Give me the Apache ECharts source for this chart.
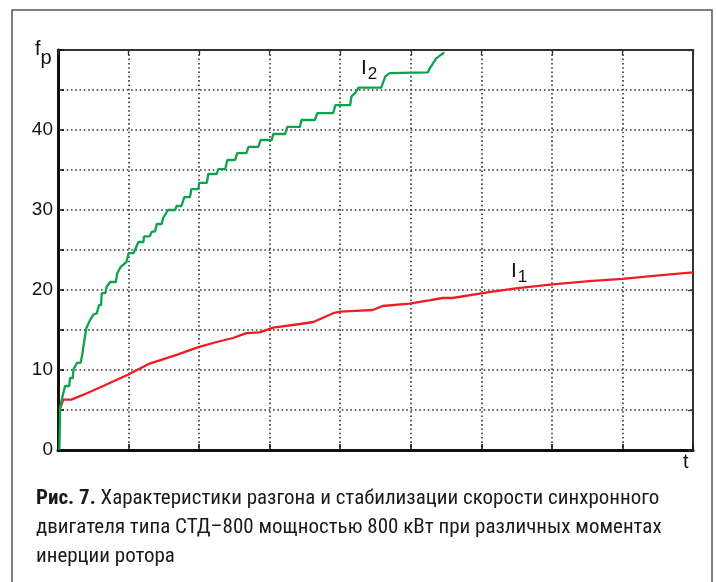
<!DOCTYPE html>
<html><head><meta charset="utf-8">
<script src="https://cdn.jsdelivr.net/npm/echarts@6/dist/echarts.min.js"></script>
<style>html,body{margin:0;padding:0;background:#fff}#c{width:716px;height:582px}</style>
</head><body><div id="c"></div>
<script>
// t (arbitrary units, 9 grid divisions), f_p values
const yTickLabels = [0, 10, 20, 30, 40];
const seriesNames = ['I1', 'I2'];
const i1_t = [0.02,0.075,0.19,0.41,0.64,0.99,1.30,1.68,2.00,2.25,2.48,2.67,2.86,3.05,3.43,3.62,3.90,4.00,4.22,4.46,4.60,4.98,5.26,5.45,5.59,6.02,6.16,6.49,7.01,7.53,8.00,8.48,9.00];
const i1_f = [5.0,6.3,6.3,7.1,8.0,9.4,10.8,11.9,12.9,13.5,14.0,14.6,14.7,15.3,15.75,16.0,17.1,17.3,17.4,17.5,18.0,18.3,18.7,19.0,19.0,19.6,19.8,20.2,20.7,21.1,21.4,21.8,22.2];
const i2_t = [0.02,0.03,0.075,0.10,0.16,0.17,0.21,0.22,0.27,0.32,0.34,0.36,0.40,0.455,0.50,0.55,0.58,0.61,0.62,0.67,0.69,0.74,0.82,0.84,0.89,0.97,1.00,1.07,1.14,1.21,1.22,1.30,1.33,1.375,1.40,1.47,1.49,1.56,1.66,1.68,1.75,1.79,1.87,1.89,1.99,2.00,2.11,2.13,2.25,2.27,2.37,2.40,2.51,2.54,2.67,2.70,2.84,2.87,3.03,3.05,3.22,3.25,3.43,3.45,3.64,3.675,3.90,3.93,4.14,4.16,4.21,4.26,4.58,4.64,4.70,5.24,5.27,5.36,5.475];
const i2_f = [0,5.4,7.1,8.0,8.0,9.0,9.0,10.1,10.9,10.9,11.75,11.75,15.2,16.25,16.9,17.1,18.1,18.1,19.6,19.6,20.4,21.0,21.0,22.1,22.9,23.5,24.6,24.6,26.0,26.0,26.7,26.7,27.3,27.3,28.25,28.25,29.0,30.0,30.0,30.5,30.5,31.6,31.6,32.6,32.6,33.4,33.4,34.5,34.5,35.1,35.1,36.25,36.25,37.1,37.1,37.9,37.9,38.75,38.75,39.5,39.5,40.4,40.4,41.25,41.25,42.1,42.1,43.1,43.1,44.2,44.6,45.3,45.3,46.7,47.1,47.2,47.7,48.95,49.7];
const caption = [
  {bold: 'Рис. 7.', rest: ' Характеристики разгона и стабилизации скорости синхронного'},
  {bold: '', rest: 'двигателя типа СТД–800 мощностью 800 кВт при различных моментах'},
  {bold: '', rest: 'инерции ротора'}
];

const zip = (a, b) => a.map((v, i) => [v, b[i]]);
const chart = echarts.init(document.getElementById('c'), null, {renderer: 'canvas'});
const grid = {left: 58, right: 23, top: 50, bottom: 132};
const dotted = {show: true, lineStyle: {color: '#333', width: 1.6, type: [1.6, 2.7]}};
const baseX = {type: 'value', min: 0, max: 9, interval: 1, axisLabel: {show: false}};
const baseY = {type: 'value', min: 0, max: 50, interval: 5};
const capFont = "'Liberation Sans Narrow','Roboto Condensed','DejaVu Sans Condensed',sans-serif";
const graphics = [
  {type: 'rect', shape: {x: 12, y: 10, width: 700, height: 600}, style: {fill: 'none', stroke: '#555', lineWidth: 1.5}, z: 0},
  {type: 'text', left: 35, top: 39, style: {text: '{a|f}{b|p}', rich: {a: {fontSize: 20, fontFamily: 'Liberation Sans', fill: '#111', verticalAlign: 'top'}, b: {fontSize: 20, fontFamily: 'Liberation Sans', fill: '#111', padding: [9, 0, 0, 0]}}}},
  {type: 'text', left: 683, top: 452, style: {text: 't', fontSize: 20, fontFamily: 'Liberation Sans', fill: '#111'}},
  {type: 'text', left: 511, top: 261, style: {text: '{a|I}{b|1}', rich: {a: {fontSize: 21, fontFamily: 'Liberation Sans', fill: '#111'}, b: {fontSize: 17, fontFamily: 'Liberation Sans', fill: '#111', padding: [12, 0, 0, 1]}}}},
  {type: 'text', left: 361, top: 58, style: {text: '{a|I}{b|2}', rich: {a: {fontSize: 21, fontFamily: 'Liberation Sans', fill: '#111'}, b: {fontSize: 17, fontFamily: 'Liberation Sans', fill: '#111', padding: [12, 0, 0, 1]}}}}
];
caption.forEach((ln, i) => {
  graphics.push({type: 'text', left: 36, top: 488 + i * 29, style: {
    text: (ln.bold ? '{b|' + ln.bold + '}' : '') + '{r|' + ln.rest + '}',
    rich: {b: {fontSize: 21, fontWeight: 'bold', fontFamily: capFont, fill: '#1a1a1a'}, r: {fontSize: 21, fontFamily: capFont, fill: '#1a1a1a'}}
  }});
});
chart.setOption({
  animation: false,
  backgroundColor: '#fff',
  grid: grid,
  xAxis: [
    Object.assign({}, baseX, {position: 'bottom', axisLine: {onZero: false, lineStyle: {color: '#111', width: 3}}, axisTick: {inside: true, length: 6, lineStyle: {color: '#111', width: 1.5}}, splitLine: dotted}),
    Object.assign({}, baseX, {position: 'top', axisLine: {onZero: false, lineStyle: {color: '#333', width: 1.8}}, axisTick: {inside: true, length: 5, lineStyle: {color: '#333', width: 1.3}}, splitLine: {show: false}})
  ],
  yAxis: [
    Object.assign({}, baseY, {position: 'left', axisLine: {show: true, onZero: false, lineStyle: {color: '#111', width: 3}}, axisTick: {show: true, inside: true, length: 6, lineStyle: {color: '#111', width: 1.5}}, splitLine: dotted,
      axisLabel: {margin: 5, fontSize: 19, fontFamily: 'Liberation Sans', color: '#111', formatter: v => yTickLabels.indexOf(v) >= 0 ? String(v) : ''}}),
    Object.assign({}, baseY, {position: 'right', axisLine: {show: true, onZero: false, lineStyle: {color: '#333', width: 2}}, axisTick: {show: true, inside: true, length: 5, lineStyle: {color: '#333', width: 1.3}}, splitLine: {show: false}, axisLabel: {show: false}})
  ],
  series: [
    {name: seriesNames[0], type: 'line', data: zip(i1_t, i1_f), showSymbol: false, lineStyle: {color: '#ee1c24', width: 2.3}, z: 3},
    {name: seriesNames[1], type: 'line', data: zip(i2_t, i2_f), showSymbol: false, lineStyle: {color: '#0ea24c', width: 2.3}, z: 4}
  ],
  graphic: graphics
});
</script></body></html>
